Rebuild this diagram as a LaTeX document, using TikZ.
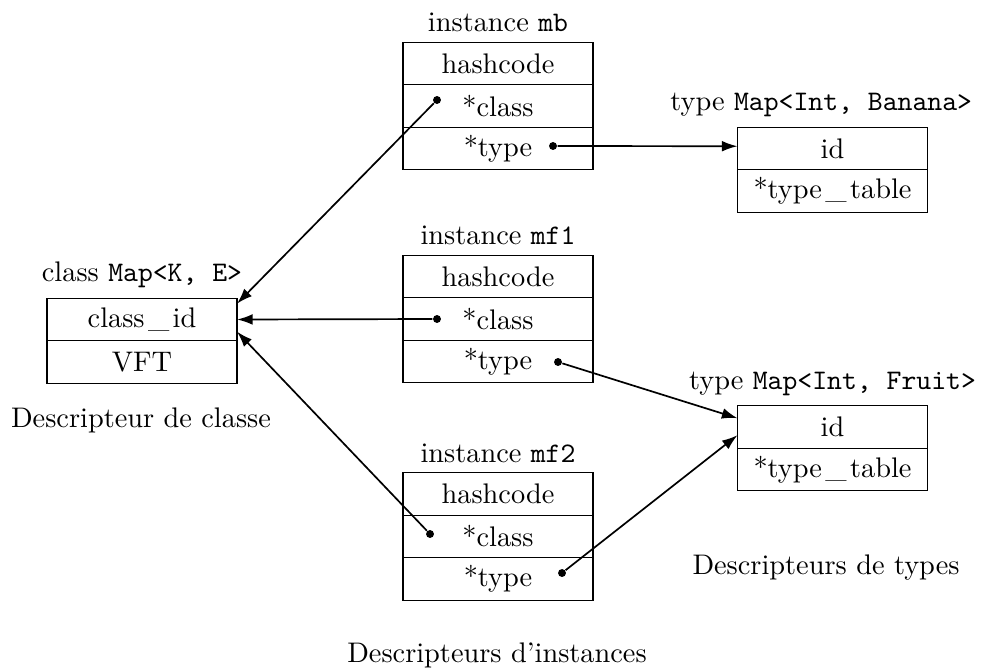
\documentclass[tikz,border=0pt]{standalone}
\usetikzlibrary{positioning,arrows.meta}

\newcommand{\us}{\kern1.2pt\_\kern1.2pt}

\tikzset{
  cell/.style={draw, minimum width=67.1pt, minimum height=15pt, inner sep=0pt, outer sep=0pt},
  dot/.style={circle, fill, inner sep=0pt, minimum size=2.8pt},
  ptr/.style={-{Latex[length=5.5pt,width=3.8pt]}, semithick}
}

\begin{document}
\begin{tikzpicture}[x=0.353pt,y=-0.353pt]
  \useasboundingbox (0,0) rectangle (984,668);

  % instance mb
  \node[cell] (mbh) at (498,63.5) {hashcode};
  \node[cell,below=0pt of mbh] (mbc) {*class};
  \node[cell,below=0pt of mbc] (mbt) {*type};
  \node[above=0pt of mbh] (mblab) {instance \texttt{mb}};

  % instance mf1
  \node[cell] (mfah) at (498,276.5) {hashcode};
  \node[cell,below=0pt of mfah] (mfac) {*class};
  \node[cell,below=0pt of mfac] (mfat) {*type};
  \node[above=0pt of mfah] (mfalab) {instance \texttt{mf1}};

  % instance mf2
  \node[cell] (mfbh) at (498,494) {hashcode};
  \node[cell,below=0pt of mfbh] (mfbc) {*class};
  \node[cell,below=0pt of mfbc] (mfbt) {*type};
  \node[above=0pt of mfbh] (mfblab) {instance \texttt{mf2}};

  % class descriptor
  \node[cell] (clsid) at (142,319.5) {class\us id};
  \node[cell,below=0pt of clsid] (clsvft) {VFT};
  \node[above=0pt of clsid] (clslab) {class \texttt{Map<K, E>}};

  % type descriptors
  \node[cell] (tbid) at (832.5,148.5) {id};
  \node[cell,below=0pt of tbid] (tbtab) {*type\us table};
  \node[above=0pt of tbid,xshift=-4pt] (tblab) {type \texttt{Map<Int, Banana>}};

  \node[cell] (tfid) at (832.5,427) {id};
  \node[cell,below=0pt of tfid] (tftab) {*type\us table};
  \node[above=0pt of tfid] (tflab) {type \texttt{Map<Int, Fruit>}};

  % captions
  \node (capcls) at (141,420) {Descripteur de classe};
  \node (captyp) at (826,568) {Descripteurs de types};
  \node (capins) at (497,655) {Descripteurs d'instances};

  % pointer dots
  \node[dot] (mbcp) at (437,100) {};
  \node[dot] (mbtp) at (553,146) {};
  \node[dot] (mfacp) at (437,319) {};
  \node[dot] (mfatp) at (558,362) {};
  \node[dot] (mfbcp) at (430,534) {};
  \node[dot] (mfbtp) at (562,573) {};

  % pointers
  \draw[ptr] (mbcp) -- ([yshift=5.6pt]clsid.east);
  \draw[ptr] (mfacp) -- (clsid.east);
  \draw[ptr] (mfbcp) -- ([yshift=-4.3pt]clsid.east);
  \draw[ptr] (mbtp) -- ([yshift=0.8pt]tbid.west);
  \draw[ptr] (mfatp) -- ([yshift=3.1pt]tfid.west);
  \draw[ptr] (mfbtp) -- ([yshift=-2.9pt]tfid.west);
\end{tikzpicture}
\end{document}
